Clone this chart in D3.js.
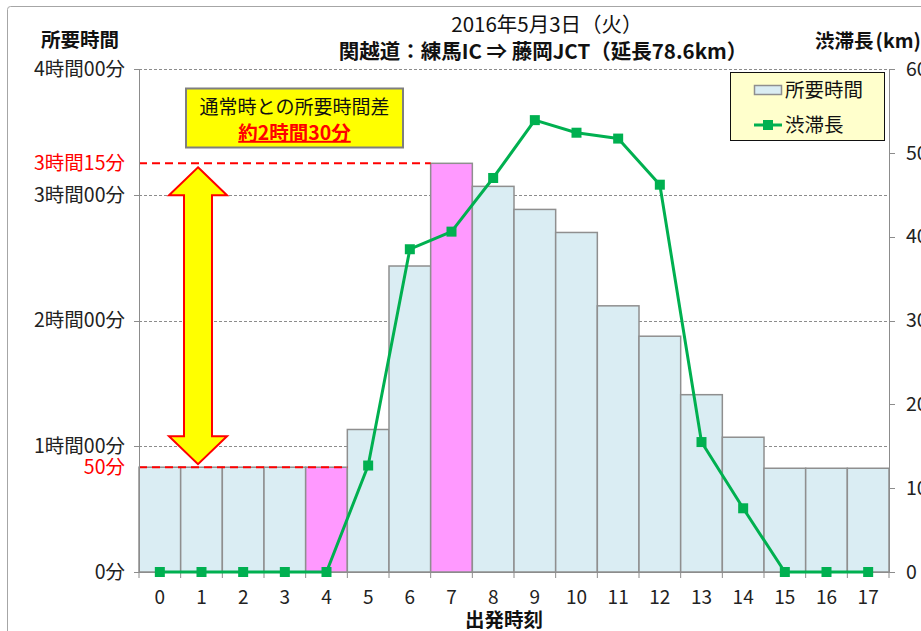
<!DOCTYPE html>
<html><head><meta charset="utf-8">
<script src="https://cdn.jsdelivr.net/npm/d3@7"></script>
<style>
body{margin:0;background:#fff;}
svg{display:block;font-family:"Noto Sans CJK JP","Noto Sans",sans-serif;}
</style></head>
<body><svg id="c" width="921" height="631"></svg>
<script>
const hours = [0,1,2,3,4,5,6,7,8,9,10,11,12,13,14,15,16,17];
const travelMin = [50,50,50,50,50,68,146,195,184,173,162,127,112.5,84.6,64.3,49.5,49.5,49.5];
const jamKm = [0,0,0,0,0,12.7,38.5,40.6,47.0,53.9,52.4,51.7,46.2,15.5,7.6,0,0,0];
const highlight = [4,7];
const leftTicks = [0,60,120,180,240];
const leftTickLabels = ["0分","1時間00分","2時間00分","3時間00分","4時間00分"];
const rightTicks = [0,10,20,30,40,50,60];
const refValues = [195,50];
const refLabels = ["3時間15分","50分"];
const refEndIdx = [7,5];
const titleLines = ["2016年5月3日（火）","関越道：練馬IC ⇒ 藤岡JCT（延長78.6km）"];
const seriesNames = ["所要時間","渋滞長"];
const noteLines = ["通常時との所要時間差","約2時間30分"];

const svg = d3.select("#c");
const L = 139, R = 889, T = 69, B = 572;
const x = d3.scaleBand().domain(hours).range([L,R]).padding(0);
const yL = d3.scaleLinear().domain([0,240]).range([B,T]);
const yR = d3.scaleLinear().domain([0,60]).range([B,T]);
const FS = 19.5;

// outer border
svg.append("rect").attr("x",7.5).attr("y",6.5).attr("width",930).attr("height",640)
  .attr("rx",3).attr("fill","none").attr("stroke","#a6a6a6").attr("stroke-width",1);

// gridlines
svg.append("g").selectAll("line").data(leftTicks.filter(d=>d>0)).join("line")
  .attr("x1",L).attr("x2",R).attr("y1",d=>Math.round(yL(d))+0.5).attr("y2",d=>Math.round(yL(d))+0.5)
  .attr("stroke","#8c8c8c").attr("stroke-width",1).attr("stroke-dasharray","3,2");

// bars
svg.append("g").selectAll("rect").data(hours).join("rect")
  .attr("x",d=>x(d)).attr("width",x.bandwidth())
  .attr("y",(d,i)=>yL(travelMin[i])).attr("height",(d,i)=>B-yL(travelMin[i]))
  .attr("fill",(d,i)=>highlight.includes(i)?"#ff99ff":"#daedf3")
  .attr("stroke","#8f8f8f").attr("stroke-width",1.5);

// red reference lines
refValues.forEach((v,k)=>{
  svg.append("line").attr("x1",L).attr("x2",x(hours[refEndIdx[k]]))
    .attr("y1",yL(v)).attr("y2",yL(v))
    .attr("stroke","#ff0000").attr("stroke-width",2).attr("stroke-dasharray","8,5");
  svg.append("text").attr("x",125).attr("y",yL(v)).attr("dy","0.35em")
    .attr("text-anchor","end").attr("fill","#ff0000").attr("font-size",FS).text(refLabels[k]);
});

// axes lines
const axisColor="#8c8c8c";
svg.append("line").attr("x1",L+0.5).attr("x2",L+0.5).attr("y1",T).attr("y2",B).attr("stroke",axisColor);
svg.append("line").attr("x1",R+0.5).attr("x2",R+0.5).attr("y1",T).attr("y2",B).attr("stroke",axisColor);
svg.append("line").attr("x1",L).attr("x2",R).attr("y1",B+0.5).attr("y2",B+0.5).attr("stroke",axisColor);

// left ticks
const gl = svg.append("g");
leftTicks.forEach((t,i)=>{
  const yy=Math.round(yL(t))+0.5;
  gl.append("line").attr("x1",L-5).attr("x2",L).attr("y1",yy).attr("y2",yy).attr("stroke",axisColor);
  gl.append("text").attr("x",125).attr("y",yL(t)).attr("dy","0.35em").attr("text-anchor","end")
    .attr("font-size",FS).attr("fill","#222").text(leftTickLabels[i]);
});
// right ticks
rightTicks.forEach(t=>{
  const yy=Math.round(yR(t))+0.5;
  svg.append("line").attr("x1",R).attr("x2",R+6).attr("y1",yy).attr("y2",yy).attr("stroke",axisColor);
  svg.append("text").attr("x",906).attr("y",yR(t)).attr("dy","0.35em").attr("text-anchor","start")
    .attr("font-size",FS).attr("fill","#222").text(t);
});
// bottom ticks
const edges = hours.map(h=>x(h)).concat([R]);
edges.forEach(e=>{
  svg.append("line").attr("x1",e).attr("x2",e).attr("y1",B).attr("y2",B+6).attr("stroke",axisColor);
});
hours.forEach(h=>{
  svg.append("text").attr("x",x(h)+x.bandwidth()/2).attr("y",597).attr("dy","0.35em")
    .attr("text-anchor","middle").attr("font-size",19).attr("fill","#222").text(h);
});

// line series
const lineGen = d3.line().x((d,i)=>x(hours[i])+x.bandwidth()/2).y(d=>yR(d));
svg.append("path").datum(jamKm).attr("d",lineGen).attr("fill","none")
  .attr("stroke","#00b050").attr("stroke-width",3).attr("stroke-linejoin","round");
svg.append("g").selectAll("rect").data(jamKm).join("rect")
  .attr("x",(d,i)=>x(hours[i])+x.bandwidth()/2-5).attr("y",d=>yR(d)-5)
  .attr("width",10).attr("height",10).attr("fill","#00b050");

// double arrow
const ax = 198, tipTop = yL(195)+4, tipBot = yL(50)-3;
const headH = 28, headW = 29, shaftW = 14;
const arrowPts = [
  [ax,tipTop],[ax+headW,tipTop+headH],[ax+shaftW,tipTop+headH],
  [ax+shaftW,tipBot-headH],[ax+headW,tipBot-headH],[ax,tipBot],
  [ax-headW,tipBot-headH],[ax-shaftW,tipBot-headH],[ax-shaftW,tipTop+headH],
  [ax-headW,tipTop+headH]
];
svg.append("polygon").attr("points",arrowPts.map(p=>p.join(",")).join(" "))
  .attr("fill","#ffff00").attr("stroke","#ff0000").attr("stroke-width",2).attr("stroke-linejoin","miter");

// annotation box
svg.append("rect").attr("x",186).attr("y",88.5).attr("width",217).attr("height",59)
  .attr("fill","#ffff00").attr("stroke","#7f7f7f").attr("stroke-width",2);
svg.append("text").attr("x",294.5).attr("y",107).attr("dy","0.35em").attr("text-anchor","middle")
  .attr("font-size",19).attr("fill","#111").text(noteLines[0]);
svg.append("text").attr("x",294.5).attr("y",133).attr("dy","0.35em").attr("text-anchor","middle")
  .attr("font-size",19.5).attr("font-weight","bold").attr("fill","#ff0000")
  .attr("text-decoration","underline").text(noteLines[1]);

// legend
svg.append("rect").attr("x",730.5).attr("y",72.5).attr("width",154).attr("height",68)
  .attr("fill","#ffffcc").attr("stroke","#111").attr("stroke-width",1);
svg.append("rect").attr("x",754.5).attr("y",85.5).attr("width",27).attr("height",9)
  .attr("fill","#daedf3").attr("stroke","#8f8f8f").attr("stroke-width",1.5);
svg.append("text").attr("x",785).attr("y",90).attr("dy","0.35em").attr("font-size",FS).attr("fill","#111").text(seriesNames[0]);
svg.append("line").attr("x1",754).attr("x2",782).attr("y1",125).attr("y2",125).attr("stroke","#00b050").attr("stroke-width",3);
svg.append("rect").attr("x",763).attr("y",120).attr("width",10).attr("height",10).attr("fill","#00b050");
svg.append("text").attr("x",785).attr("y",125).attr("dy","0.35em").attr("font-size",FS).attr("fill","#111").text(seriesNames[1]);

// titles
svg.append("text").attr("x",547).attr("y",25).attr("dy","0.35em").attr("text-anchor","middle")
  .attr("font-size",20.5).attr("fill","#111").text(titleLines[0]);
svg.append("text").attr("x",543).attr("y",52).attr("dy","0.35em").attr("text-anchor","middle")
  .attr("font-size",20.5).attr("font-weight","bold").attr("fill","#111").text(titleLines[1]);
svg.append("text").attr("x",80).attr("y",40).attr("dy","0.35em").attr("text-anchor","middle")
  .attr("font-size",FS).attr("font-weight","bold").attr("fill","#111").text("所要時間");
const rt = svg.append("text").attr("x",815).attr("y",41).attr("dy","0.35em").attr("text-anchor","start")
  .attr("font-size",FS).attr("font-weight","bold").attr("fill","#111");
rt.append("tspan").text("渋滞長");
rt.append("tspan").attr("dx",2).text("(km)");
svg.append("text").attr("x",504).attr("y",620).attr("dy","0.35em").attr("text-anchor","middle")
  .attr("font-size",FS).attr("font-weight","bold").attr("fill","#111").text("出発時刻");
</script></body></html>
